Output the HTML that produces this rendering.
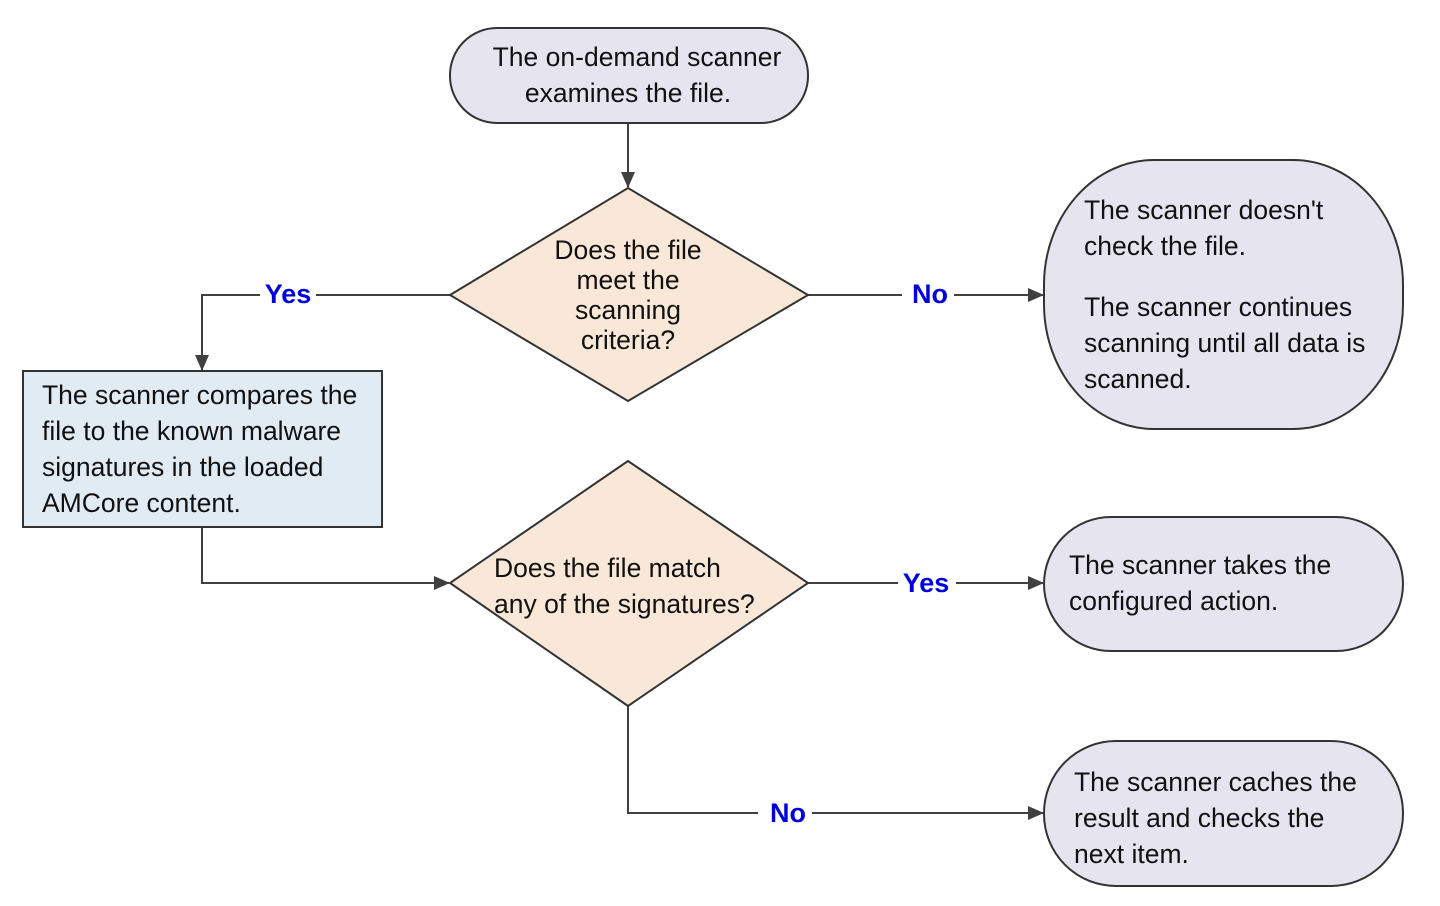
<!DOCTYPE html>
<html><head><meta charset="utf-8"><style>
html,body{margin:0;padding:0;background:#fff;}
svg text{font-family:"Liberation Sans",sans-serif;font-size:26.5px;fill:#111;}
.l{fill:#0000dd;font-weight:bold;font-size:27px;}
</style></head><body>
<svg width="1440" height="901" viewBox="0 0 1440 901" xmlns="http://www.w3.org/2000/svg">
<defs><marker id="a" markerWidth="16" markerHeight="14" refX="15" refY="7" orient="auto" markerUnits="userSpaceOnUse"><path d="M0,0 L16,7 L0,14 Z" fill="#404040"/></marker></defs>
<g stroke="#404040" stroke-width="2" fill="none">
<path d="M628,123 V187" marker-end="url(#a)"/>
<path d="M450,295 H202 V370" marker-end="url(#a)"/>
<path d="M808,295 H1043" marker-end="url(#a)"/>
<path d="M202,527 V583 H449" marker-end="url(#a)"/>
<path d="M808,583 H1043" marker-end="url(#a)"/>
<path d="M628,706 V813 H1043" marker-end="url(#a)"/>
</g>
<g stroke="#333" stroke-width="2">
<rect x="450" y="28" width="358" height="95" rx="47" fill="#e6e4ef"/>
<path d="M628,188 L808,295 L628,401 L450,295 Z" fill="#f9e8d8"/>
<rect x="1044" y="160" width="359" height="269" rx="110" ry="125" fill="#e6e4ef"/>
<rect x="23" y="371" width="359" height="156" fill="#e0ebf4"/>
<path d="M628,461 L808,583 L628,706 L450,583 Z" fill="#f9e8d8"/>
<rect x="1044" y="517" width="359" height="134" rx="67" fill="#e6e4ef"/>
<rect x="1044" y="741" width="359" height="145" rx="72" fill="#e6e4ef"/>
</g>
<g fill="#fff"><rect x="260" y="280" width="56" height="30"/><rect x="902" y="280" width="52" height="30"/><rect x="898" y="568" width="58" height="30"/><rect x="758" y="798" width="54" height="30"/></g>
<text class="l" x="288" y="303" text-anchor="middle">Yes</text>
<text class="l" x="930" y="303" text-anchor="middle">No</text>
<text class="l" x="926" y="592" text-anchor="middle">Yes</text>
<text class="l" x="788" y="822" text-anchor="middle">No</text>
<g text-anchor="middle">
<text x="637" y="66">The on-demand scanner</text>
<text x="628" y="102">examines the file.</text>
<text x="628" y="259">Does the file</text>
<text x="628" y="289">meet the</text>
<text x="628" y="319">scanning</text>
<text x="628" y="349">criteria?</text>
</g>
<text x="1084" y="219">The scanner doesn't</text>
<text x="1084" y="255">check the file.</text>
<text x="1084" y="316">The scanner continues</text>
<text x="1084" y="352">scanning until all data is</text>
<text x="1084" y="388">scanned.</text>
<text x="42" y="404">The scanner compares the</text>
<text x="42" y="440">file to the known malware</text>
<text x="42" y="476">signatures in the loaded</text>
<text x="42" y="512">AMCore content.</text>
<text x="494" y="577">Does the file match</text>
<text x="494" y="613">any of the signatures?</text>
<text x="1069" y="574">The scanner takes the</text>
<text x="1069" y="610">configured action.</text>
<text x="1074" y="791">The scanner caches the</text>
<text x="1074" y="827">result and checks the</text>
<text x="1074" y="863">next item.</text>
</svg>
</body></html>
